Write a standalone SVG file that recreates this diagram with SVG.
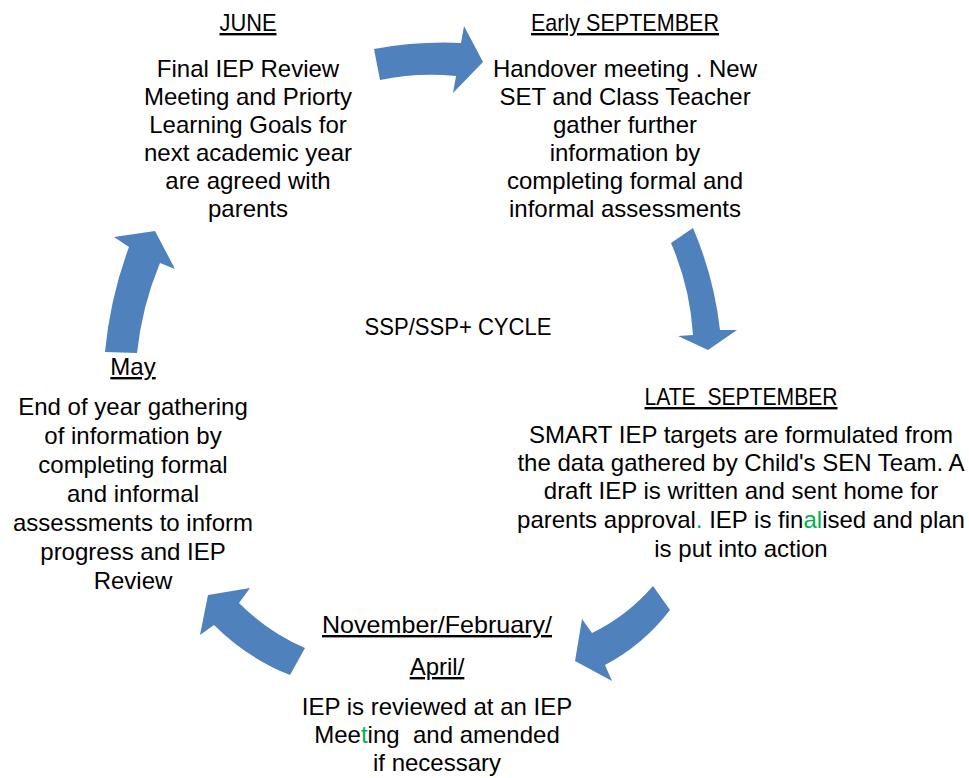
<svg xmlns="http://www.w3.org/2000/svg" width="969" height="778" viewBox="0 0 969 778">
<style>
text{font-family:"Liberation Sans",Arial,sans-serif;font-size:24px;fill:#000;text-anchor:middle;white-space:pre}
.h{text-decoration:underline}
.g{fill:#00b050}
.arrow{fill:#4f81bd;stroke:none}
</style>
<rect width="969" height="778" fill="#fff"/>
<g id="connectors">
<path class="arrow" d="M374,49 Q418,41 461,43 L464,26 L483,62 L453,93 L456,76 Q418,72 380,80 Z"/>
<path class="arrow" d="M693,228 Q714,277 720,330 L737,330 L708,350 L678,336 L693,335 Q690,287 671,243 Z"/>
<path class="arrow" d="M653,586 L670,610 Q643,645 605,665 L612,681 L575,661 L582,619 L592,633 Q627,616 653,586 Z"/>
<path class="arrow" d="M305,648 L290,675 Q247,658 214,625 L200,635 L208,595 L250,588 L239,603 Q268,632 305,648 Z"/>
<path class="arrow" d="M105,352 Q110,298 129,247 L114,237 L155,231 L175,269 L160,263 Q142,306 137,353 Z"/>
</g>
<g id="june">
<text class="h" x="248" y="31" textLength="57" lengthAdjust="spacingAndGlyphs">JUNE</text>
<text x="248" y="77">Final IEP Review</text>
<text x="248" y="105">Meeting and Priorty</text>
<text x="248" y="133">Learning Goals for</text>
<text x="248" y="161">next academic year</text>
<text x="248" y="189">are agreed with</text>
<text x="248" y="217">parents</text>
</g>
<g id="early-september">
<text class="h" x="625" y="31" textLength="188" lengthAdjust="spacingAndGlyphs">Early SEPTEMBER</text>
<text x="625" y="77">Handover meeting . New</text>
<text x="625" y="105">SET and Class Teacher</text>
<text x="625" y="133">gather further</text>
<text x="625" y="161">information by</text>
<text x="625" y="189">completing formal and</text>
<text x="625" y="217">informal assessments</text>
</g>
<g id="cycle">
<text x="458" y="335" textLength="187" lengthAdjust="spacingAndGlyphs">SSP/SSP+ CYCLE</text>
</g>
<g id="late-september">
<text class="h" x="741" y="405" textLength="193" lengthAdjust="spacingAndGlyphs">LATE  SEPTEMBER</text>
<text x="741" y="443">SMART IEP targets are formulated from</text>
<text x="741" y="471">the data gathered by Child's SEN Team. A</text>
<text x="741" y="499">draft IEP is written and sent home for</text>
<text x="741" y="528">parents approval<tspan class="g">.</tspan> IEP is fin<tspan class="g">al</tspan>ised and plan</text>
<text x="741" y="557">is put into action</text>
</g>
<g id="november">
<text class="h" x="437" y="633" textLength="230" lengthAdjust="spacingAndGlyphs">November/February/</text>
<text class="h" x="437" y="675">April/</text>
<text x="437" y="715">IEP is reviewed at an IEP</text>
<text x="437" y="743">Mee<tspan class="g">t</tspan>ing  and amended</text>
<text x="437" y="771">if necessary</text>
</g>
<g id="may">
<text class="h" x="133" y="375">May</text>
<text x="133" y="415">End of year gathering</text>
<text x="133" y="444">of information by</text>
<text x="133" y="473">completing formal</text>
<text x="133" y="502">and informal</text>
<text x="133" y="531">assessments to inform</text>
<text x="133" y="560">progress and IEP</text>
<text x="133" y="589">Review</text>
</g>
</svg>
